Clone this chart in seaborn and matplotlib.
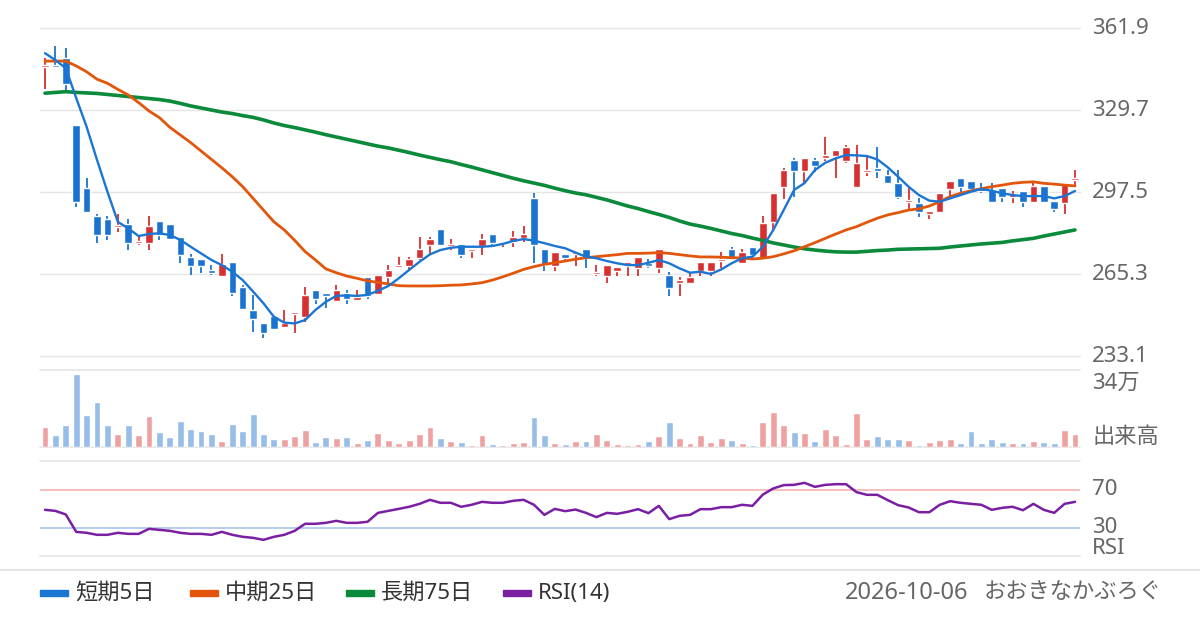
import numpy as np
import pandas as pd
import matplotlib
matplotlib.use('Agg')
import matplotlib.pyplot as plt
from matplotlib.patches import Rectangle
import seaborn as sns

# --- values (100 sessions) ---
opens = [346.4, 347.0, 350.0, 323.8, 299.1, 288.1, 286.9, 283.9, 284.9, 277.4,
         277.6, 286.1, 284.9, 279.7, 272.0, 271.2, 266.9, 264.6, 270.0, 260.2,
         251.2, 245.9, 248.8, 244.6, 249.6, 248.5, 259.0, 257.8, 254.8, 257.8,
         255.1, 264.1, 257.4, 264.0, 268.0, 268.6, 271.7, 276.8, 283.0, 276.4,
         277.1, 274.4, 276.4, 281.0, 277.1, 277.8, 279.5, 295.1, 275.1, 268.4,
         273.2, 273.2, 275.1, 265.3, 264.5, 266.5, 268.4, 267.7, 269.7, 267.7,
         264.9, 261.9, 261.9, 266.5, 266.5, 270.4, 275.1, 269.7, 275.9, 271.0,
         285.8, 299.6, 310.1, 305.9, 310.1, 310.7, 311.6, 309.8, 299.6, 305.5,
         306.8, 304.2, 300.9, 293.5, 293.0, 288.7, 289.8, 298.8, 302.9, 301.8,
         299.0, 298.3, 299.0, 295.7, 297.9, 293.7, 299.9, 294.0, 293.0, 302.2]
highs = [350.1, 354.9, 353.9, 323.8, 303.0, 288.9, 288.1, 288.9, 286.9, 280.0,
         288.1, 286.1, 284.9, 279.7, 273.2, 271.2, 268.8, 273.2, 270.0, 261.0,
         257.1, 245.9, 249.0, 251.2, 250.3, 260.3, 259.0, 257.8, 261.0, 259.0,
         259.0, 264.1, 265.0, 268.8, 271.8, 271.8, 279.7, 279.7, 283.0, 279.0,
         277.1, 275.1, 281.0, 281.0, 277.8, 282.3, 284.3, 297.0, 275.1, 273.9,
         273.2, 273.7, 275.1, 268.8, 268.8, 268.0, 270.2, 271.9, 271.2, 275.1,
         266.1, 264.2, 265.8, 270.0, 270.0, 273.9, 275.9, 275.1, 275.9, 288.1,
         297.1, 306.8, 310.8, 310.8, 310.8, 319.2, 314.0, 316.0, 316.0, 312.0,
         315.0, 306.1, 306.1, 298.9, 295.0, 290.0, 297.0, 301.8, 302.9, 301.8,
         301.1, 301.1, 299.0, 297.9, 297.9, 301.5, 299.9, 294.0, 300.9, 306.1]
lows = [337.9, 346.0, 337.6, 291.7, 289.8, 277.6, 278.6, 281.9, 274.7, 276.7,
        274.7, 278.6, 278.9, 269.7, 264.8, 265.8, 264.8, 264.6, 256.8, 251.7,
        242.6, 240.0, 243.8, 244.6, 242.0, 246.6, 253.5, 251.8, 254.8, 253.5,
        255.1, 255.6, 257.4, 261.7, 268.0, 266.6, 270.8, 272.8, 276.8, 274.7,
        271.7, 271.7, 272.8, 276.4, 276.0, 275.8, 277.8, 269.7, 266.6, 266.6,
        270.8, 268.4, 267.8, 264.5, 261.9, 264.5, 264.5, 264.5, 267.7, 265.8,
        256.6, 256.6, 261.9, 264.5, 264.5, 267.7, 271.6, 269.7, 271.5, 271.0,
        282.6, 294.7, 295.7, 301.0, 305.5, 309.8, 302.9, 308.8, 299.6, 303.9,
        302.9, 300.9, 294.9, 290.8, 287.8, 286.8, 289.8, 295.7, 297.0, 297.6,
        297.0, 293.7, 293.7, 293.0, 291.7, 293.0, 293.7, 289.6, 288.7, 299.3]
closes = [346.9, 346.5, 339.8, 293.7, 289.8, 280.7, 280.7, 284.3, 277.6, 277.9,
          284.1, 280.7, 278.9, 272.9, 268.6, 268.6, 265.8, 269.2, 257.7, 251.7,
          247.8, 242.0, 243.8, 246.0, 250.1, 257.1, 255.6, 256.6, 259.0, 255.6,
          256.1, 256.6, 264.9, 266.9, 268.8, 271.2, 275.1, 279.0, 276.8, 277.1,
          272.8, 275.1, 279.0, 277.6, 277.8, 279.7, 281.0, 276.8, 269.0, 273.9,
          271.6, 273.7, 272.1, 266.1, 268.8, 268.0, 270.2, 271.9, 268.4, 275.1,
          259.8, 262.9, 264.1, 270.0, 270.0, 271.2, 271.6, 273.9, 272.8, 285.2,
          297.1, 306.1, 305.9, 310.8, 307.8, 312.0, 314.0, 315.1, 308.8, 306.1,
          305.9, 300.9, 295.7, 294.1, 289.8, 290.0, 297.0, 301.8, 299.6, 298.8,
          297.9, 293.7, 295.7, 296.6, 293.7, 299.9, 293.7, 290.7, 300.9, 302.9]
volume = [89900, 53900, 98900, 323500, 139300, 197700, 98900, 58400, 98900, 53900,
          134800, 67400, 44900, 116800, 80900, 71900, 58400, 27000, 103300, 71900,
          143800, 58400, 35900, 35900, 49400, 76400, 22500, 44900, 40400, 44900,
          18000, 31500, 62900, 31500, 18000, 31500, 58400, 89900, 40400, 27000,
          22500, 9000, 53900, 13500, 9000, 18000, 22500, 130300, 53900, 18000,
          13500, 27000, 27000, 58400, 31500, 13500, 9000, 13500, 27000, 49400,
          112300, 40400, 18000, 53900, 22500, 40400, 31500, 18000, 9000, 112300,
          152800, 98900, 67400, 62900, 27000, 80900, 53900, 13500, 148300, 35900,
          49400, 35900, 35900, 31500, 9000, 22500, 31500, 35900, 18000, 71900,
          18000, 35900, 22500, 18000, 18000, 27000, 22500, 18000, 76400, 58400]
ma5 = [352.0, 349.3, 346.1, 334.4, 323.1, 310.1, 297.6, 285.8, 283.2, 280.2,
       281.0, 281.3, 280.6, 278.7, 276.0, 273.4, 270.8, 268.8, 266.2, 262.9,
       258.4, 253.8, 248.5, 246.2, 245.9, 247.2, 251.2, 254.4, 256.7, 256.9,
       256.7, 257.1, 258.7, 260.6, 263.6, 266.9, 270.1, 273.0, 274.7, 275.6,
       276.0, 276.0, 276.0, 276.3, 277.1, 278.3, 279.0, 278.4, 277.4, 276.3,
       275.4, 273.7, 272.1, 271.5, 270.4, 269.5, 268.8, 268.8, 269.7, 270.8,
       269.5, 267.5, 265.8, 266.2, 265.3, 267.1, 269.5, 271.5, 272.1, 276.0,
       282.6, 290.4, 298.3, 301.0, 306.1, 309.0, 310.7, 312.0, 311.9, 311.6,
       310.3, 307.2, 303.5, 299.6, 296.3, 294.1, 293.7, 295.0, 296.3, 297.6,
       298.7, 298.0, 297.0, 296.3, 295.9, 295.9, 295.9, 295.0, 295.9, 297.9]
ma25 = [348.9, 348.9, 348.9, 347.0, 344.7, 341.8, 340.2, 337.8, 335.6, 332.6,
        329.3, 326.7, 322.9, 319.9, 316.9, 313.6, 310.3, 307.0, 303.5, 299.6,
        295.0, 290.4, 285.8, 282.6, 278.5, 274.1, 270.8, 267.3, 265.8, 264.5,
        263.6, 262.6, 262.0, 261.4, 260.7, 260.6, 260.6, 260.6, 260.7, 260.9,
        261.0, 261.4, 261.9, 262.9, 264.2, 265.6, 267.1, 268.2, 269.1, 269.7,
        270.4, 271.1, 271.7, 272.1, 272.5, 272.9, 273.4, 273.4, 273.5, 273.7,
        273.4, 272.9, 272.4, 272.0, 272.0, 271.9, 271.7, 271.6, 271.2, 271.5,
        272.1, 273.2, 274.4, 276.0, 277.6, 279.3, 281.0, 282.6, 283.9, 285.6,
        287.2, 288.5, 289.4, 290.4, 290.9, 292.0, 293.7, 295.7, 297.0, 298.0,
        298.8, 299.6, 300.2, 300.9, 301.3, 301.5, 300.9, 300.6, 300.2, 299.9]
ma75 = [336.3, 336.6, 336.9, 336.6, 336.4, 336.2, 335.8, 335.4, 335.0, 334.6,
        334.2, 333.8, 333.2, 332.3, 331.3, 330.5, 329.7, 328.9, 328.3, 327.5,
        326.8, 325.8, 324.6, 323.6, 322.8, 321.9, 321.0, 320.0, 319.1, 318.2,
        317.3, 316.4, 315.5, 314.8, 313.9, 313.0, 312.0, 311.1, 310.2, 309.4,
        308.3, 307.3, 306.2, 305.1, 304.0, 302.9, 301.9, 301.0, 300.1, 299.0,
        298.0, 297.1, 296.4, 295.4, 294.4, 293.2, 292.0, 291.0, 289.8, 288.7,
        287.5, 286.1, 284.9, 284.1, 283.2, 282.2, 281.2, 280.4, 279.4, 278.5,
        277.5, 276.7, 275.9, 275.2, 274.7, 274.3, 274.0, 273.9, 273.9, 274.2,
        274.5, 274.7, 275.0, 275.1, 275.2, 275.3, 275.4, 275.9, 276.3, 276.7,
        277.1, 277.4, 277.7, 278.3, 278.8, 279.3, 280.2, 281.0, 281.8, 282.6]
rsi14 = [48.6, 47.5, 43.7, 25.4, 24.4, 22.3, 22.3, 24.4, 23.3, 23.3,
         28.6, 27.5, 26.5, 24.4, 23.3, 23.3, 22.3, 25.4, 22.3, 20.2,
         19.1, 17.0, 20.2, 22.3, 26.5, 33.9, 33.9, 34.9, 37.0, 34.9,
         34.9, 36.0, 45.4, 47.5, 49.6, 51.8, 54.9, 59.1, 56.0, 56.0,
         51.8, 53.9, 57.0, 56.0, 56.0, 58.1, 59.1, 53.9, 43.3, 49.6,
         47.2, 48.9, 45.4, 40.9, 45.4, 44.4, 46.5, 49.3, 45.1, 52.8,
         38.8, 42.3, 43.3, 49.3, 49.3, 51.4, 51.4, 53.9, 52.8, 64.7,
         71.1, 74.6, 74.9, 77.0, 72.8, 74.9, 75.6, 75.6, 67.2, 64.4,
         64.4, 58.8, 53.5, 51.1, 46.1, 46.1, 53.9, 57.7, 56.0, 54.9,
         53.9, 48.6, 50.7, 51.8, 48.2, 54.9, 48.6, 45.4, 54.9, 57.0]

price_ticks = [361.9, 329.7, 297.5, 265.3, 233.1]
vol_max = 340000
vol_label = '34万'
vol_title = '出来高'
rsi_levels = [70, 30]
legend_labels = ['短期5日', '中期25日', '長期75日', 'RSI(14)']
date_text = '2026-10-06'
site_text = 'おおきなかぶろぐ'

# --- colours ---
UP, DOWN = '#d63031', '#1a73d0'
UP_VOL, DOWN_VOL = '#eea1a1', '#97bde9'
C5, C25, C75, CRSI = '#1a76d2', '#e2560b', '#0b8a3b', '#7b1fa2'
GRID = '#e5e5e5'
TXT = '#666666'

df = pd.DataFrame({'open': opens, 'high': highs, 'low': lows, 'close': closes,
                   'volume': volume, 'ma5': ma5, 'ma25': ma25, 'ma75': ma75,
                   'rsi': rsi14})
df['day'] = np.arange(len(df))
df['dir'] = np.where(df['close'] >= df['open'], 'up', 'down')

sns.set_style('white')
plt.rcParams['font.family'] = ['Noto Sans', 'Noto Sans CJK JP', 'DejaVu Sans']

W, H = 1200, 630
fig = plt.figure(figsize=(12, 6.3), dpi=100)


def px_axes(left, top, right, bottom):
    return fig.add_axes([left / W, 1 - bottom / H, (right - left) / W, (bottom - top) / H])


L, R = 39.8, 1080.2
ax = px_axes(L, 28, R, 356)
axv = px_axes(L, 370, R, 447)
axr = px_axes(L, 461, R, 556)
ov = fig.add_axes([0, 0, 1, 1])
ov.set_xlim(0, W)
ov.set_ylim(H, 0)
ov.axis('off')

lab_x = 1 + 12 / (R - L)
FS = 16

# --- price panel ---
cols = np.where(df['dir'] == 'up', UP, DOWN)
for t in price_ticks:
    ax.axhline(t, color=GRID, lw=1, zorder=0, clip_on=False)
ax.vlines(df['day'], df['low'], df['high'], colors=cols, lw=1.3, zorder=2)
body_lo = np.minimum(df['open'], df['close'])
body_h = np.maximum((df['close'] - df['open']).abs(), 0.8)
ax.bar(df['day'], body_h, bottom=body_lo, width=0.72, color=cols, zorder=3)
sns.lineplot(data=df, x='day', y='ma75', ax=ax, color=C75, lw=2.6, zorder=4)
sns.lineplot(data=df, x='day', y='ma25', ax=ax, color=C25, lw=2.0, zorder=5)
sns.lineplot(data=df, x='day', y='ma5', ax=ax, color=C5, lw=1.7, zorder=6)
ax.set_xlim(-0.5, len(df) - 0.5)
ax.set_ylim(price_ticks[-1], price_ticks[0])
ax.set_yticks([])
ax.set_xticks([])
ax.set_xlabel('')
ax.set_ylabel('')
for t in price_ticks:
    ax.text(lab_x, t, f'{t:.1f}', transform=ax.get_yaxis_transform(),
            ha='left', va='center', fontsize=FS, color=TXT)

# --- volume panel ---
sns.barplot(data=df, x='day', y='volume', hue='dir', palette={'up': UP_VOL, 'down': DOWN_VOL},
            native_scale=True, dodge=False, width=0.66, saturation=1, legend=False,
            ax=axv, zorder=3)
axv.axhline(0, color=GRID, lw=1.2, zorder=0, clip_on=False)
axv.axhline(vol_max, color=GRID, lw=1.2, zorder=0, clip_on=False)
axv.set_xlim(-0.5, len(df) - 0.5)
axv.set_ylim(0, vol_max)
axv.set_xticks([])
axv.set_yticks([])
axv.set_xlabel('')
axv.set_ylabel('')
axv.text(lab_x, 0.97, vol_label, transform=axv.transAxes, ha='left', va='top',
         fontsize=FS, color=TXT)
axv.text(lab_x, 0.12, vol_title, transform=axv.transAxes, ha='left', va='center',
         fontsize=FS, color=TXT)

# --- RSI panel ---
axr.axhline(100, color=GRID, lw=1.2, zorder=0, clip_on=False)
axr.axhline(0, color=GRID, lw=1.2, zorder=0, clip_on=False)
axr.axhline(rsi_levels[0], color='#f3b3b3', lw=1.2, zorder=1)
axr.axhline(rsi_levels[1], color='#a9c5ea', lw=1.2, zorder=1)
sns.lineplot(data=df, x='day', y='rsi', ax=axr, color=CRSI, lw=1.8, zorder=3)
axr.set_xlim(-0.5, len(df) - 0.5)
axr.set_ylim(0, 100)
axr.set_xticks([])
axr.set_yticks([])
axr.set_xlabel('')
axr.set_ylabel('')
for lv in rsi_levels:
    axr.text(lab_x, lv, str(lv), transform=axr.get_yaxis_transform(),
             ha='left', va='center', fontsize=FS, color=TXT)
axr.text(lab_x, 8, 'RSI', transform=axr.get_yaxis_transform(),
         ha='left', va='center', fontsize=FS, color=TXT)

for a in (ax, axv, axr):
    sns.despine(ax=a, left=True, bottom=True)
    a.patch.set_alpha(0)

# --- footer legend ---
ov.plot([0, W], [570, 570], color=GRID, lw=1.5)
for x0, col, lab in zip([40, 190, 346, 503], [C5, C25, C75, CRSI], legend_labels):
    ov.add_patch(Rectangle((x0, 590), 28, 6, color=col))
    ov.text(x0 + 35, 593, lab, ha='left', va='center', fontsize=FS, color='#333333')
ov.text(1162, 593, site_text, ha='right', va='center', fontsize=FS, color=TXT)
ov.text(968, 593, date_text, ha='right', va='center', fontsize=17, color=TXT)

fig.savefig('out.png', dpi=100, facecolor='white')
